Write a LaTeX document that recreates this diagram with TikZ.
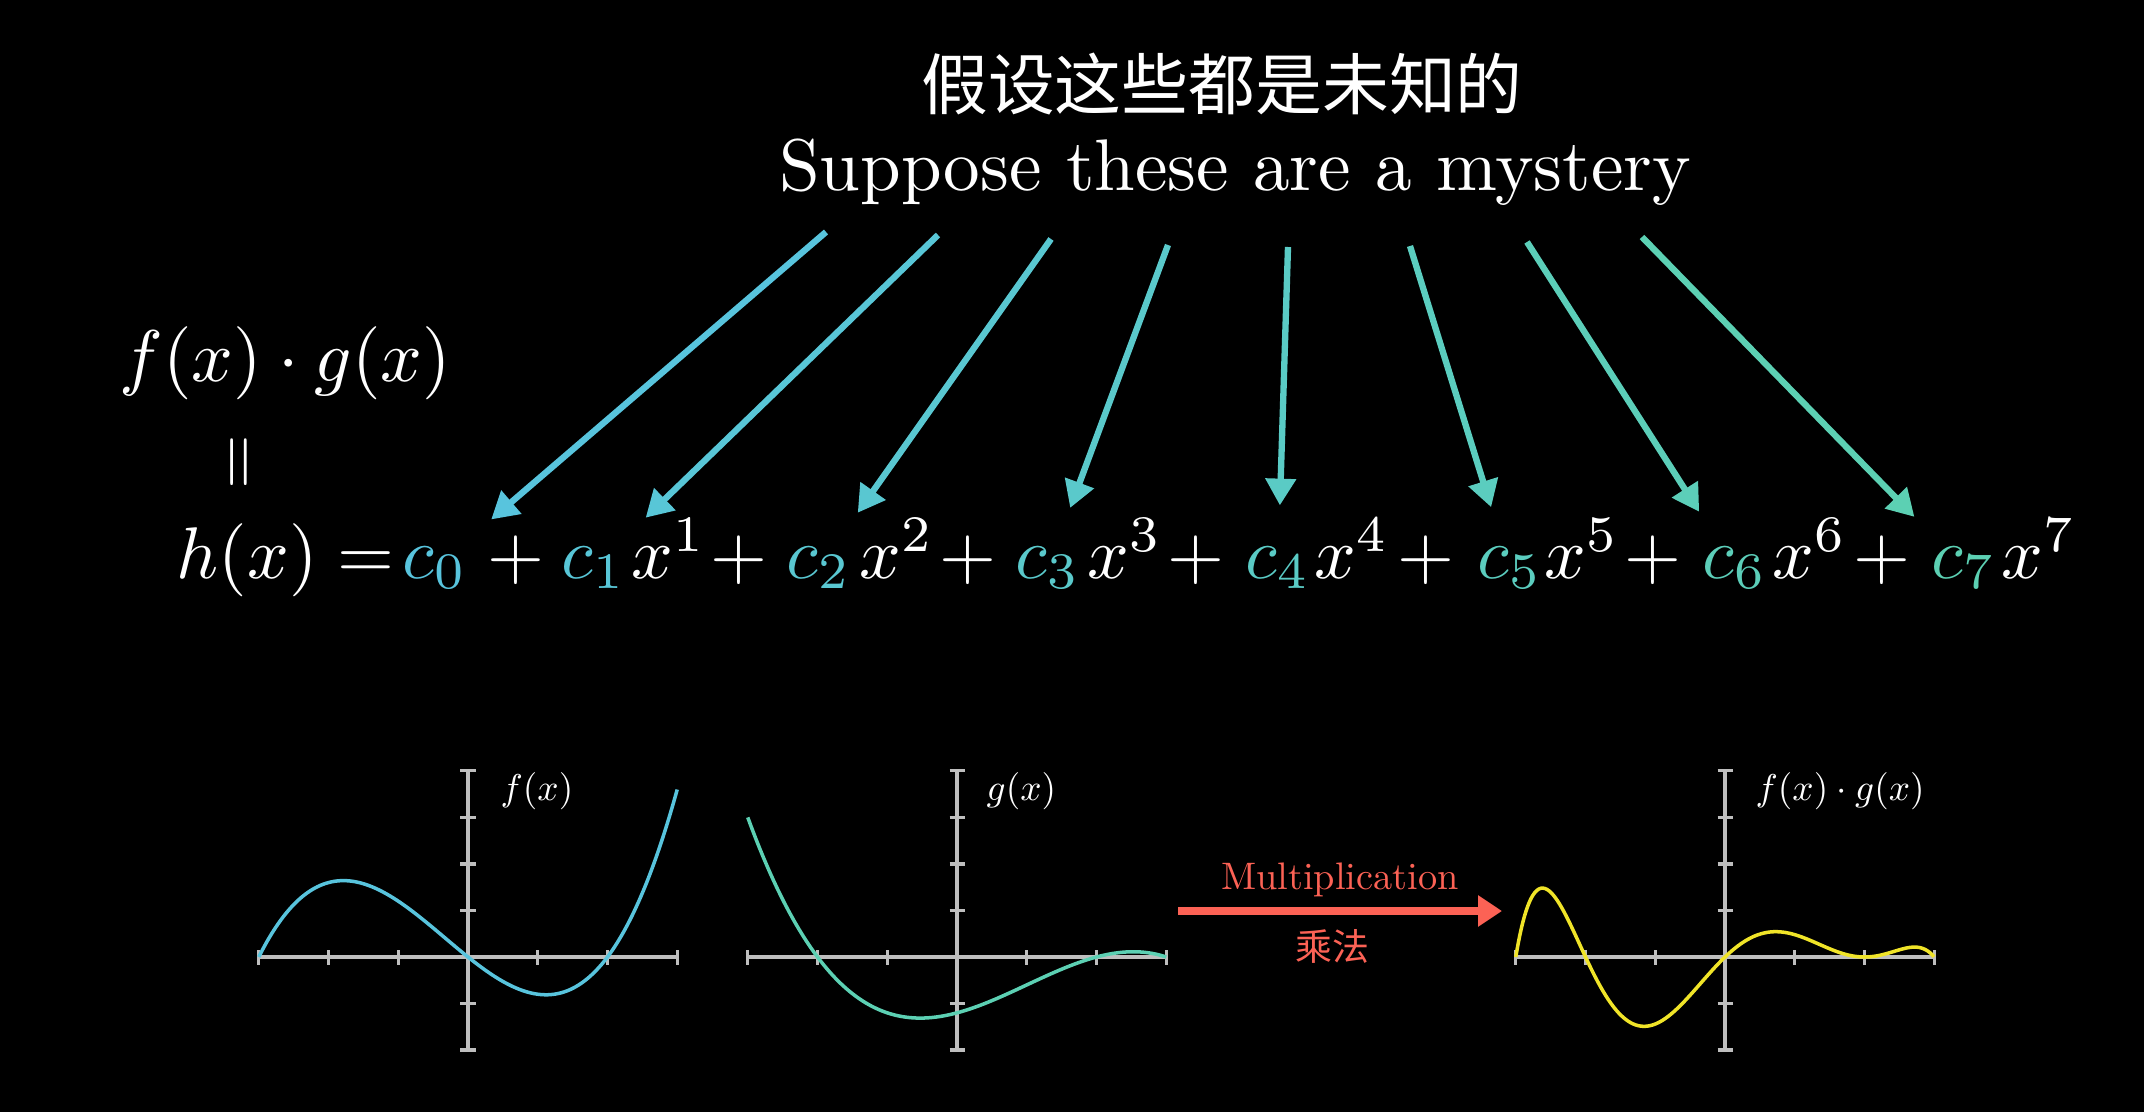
\documentclass[tikz,border=0pt]{standalone}
\usepackage{graphicx}
\usepackage{fontspec}
\newfontfamily\cjk{Noto Sans CJK SC}
\usetikzlibrary{arrows.meta}
\definecolor{cblue}{RGB}{88,196,221}
\definecolor{cteal}{RGB}{92,208,179}
\definecolor{cred}{RGB}{252,98,85}
\definecolor{cyel}{RGB}{240,228,40}
\definecolor{caxis}{RGB}{190,190,190}
\colorlet{k0}{cblue}
\colorlet{k1}{cteal!14.3!cblue}
\colorlet{k2}{cteal!28.6!cblue}
\colorlet{k3}{cteal!42.9!cblue}
\colorlet{k4}{cteal!57.1!cblue}
\colorlet{k5}{cteal!71.4!cblue}
\colorlet{k6}{cteal!85.7!cblue}
\colorlet{k7}{cteal}
\newcommand{\bigtxt}[1]{\scalebox{2.08}{#1}}
\newcommand{\smalltxt}[1]{\scalebox{1.06}{#1}}
\begin{document}
\begin{tikzpicture}[x=0.01cm,y=-0.01cm,
  big/.style={text=white, inner sep=0pt, anchor=base west},
  coefarrow/.style={line width=1.8pt, shorten >=11.5pt, -{Triangle[length=7.6pt,width=8.4pt]}},
  axisline/.style={draw=caxis, line width=0.9pt},
  curve/.style={line width=1pt},
  plotlabel/.style={text=white, inner sep=0pt, anchor=base west},
  mularrow/.style={draw=cred, line width=2.1pt, -{Triangle[length=6.8pt,width=8.5pt]}}]
\fill[black] (0,0) rectangle (2144,1112);
\useasboundingbox (0,0) rectangle (2144,1112);

% title
\node[font=\cjk\fontsize{19}{23}\selectfont, text=white, inner sep=0pt] (zh) at (1222,84) {假设这些都是未知的};
\node[big, anchor=base] (en) at (1235,190) {\bigtxt{Suppose these are a mystery}};

% left expression
\node[big] (fg) at (119,381) {\bigtxt{$f(x)\cdot g(x)$}};
\node[text=white, inner sep=0pt] (veq) at (244,462) {\scalebox{2.0}{\rotatebox{90}{$=$}}};

% equation
\node[big] (hx) at (176,578) {\bigtxt{$h(x)$}};
\node[big] (eq) at (337,578) {\bigtxt{$=$}};
\node[big, text=k0] (c0) at (402,578) {\bigtxt{$c_0$}};
\foreach \i/\cx/\xx/\px in {1/561/631/487, 2/786/859/710, 3/1015/1087/939, 4/1245/1314/1167, 5/1477/1544/1397, 6/1702/1772/1624, 7/1931/2001/1853}{
  \node[big] (p\i) at (\px,578) {\bigtxt{$+$}};
  \node[big, text=k\i] (c\i) at (\cx,578) {\bigtxt{$c_{\i}$}};
  \node[big] (x\i) at (\xx,578) {\bigtxt{$x^{\i}$}};
}

% arrows
\foreach \i/\sx/\sy in {0/826/232, 1/938/235, 2/1051/239, 3/1168/245, 4/1288/247, 5/1410/246, 6/1527/242, 7/1642/237}{
  \coordinate (s\i) at (\sx,\sy);
  \draw[coefarrow, k\i] (s\i) -- (c\i);
}

% plot f
\begin{scope}[shift={(468,957)}]
 \begin{scope}[x=0.697cm,y=0.465cm]
  \draw[axisline] (-3,0) -- (3,0);
  \draw[axisline] (0,-2) -- (0,4);
  \foreach \t in {-3,-2,-1,1,2,3} \draw[axisline] (\t,0) ++(0,-0.075cm) -- ++(0,0.15cm);
  \foreach \t in {-2,-1,1,2,3,4} \draw[axisline] (0,\t) ++(-0.075cm,0) -- ++(0.15cm,0);
  \draw[curve, cblue] plot[domain=-3:3, samples=150, smooth] (\x,{0.2*\x*(\x+3)*(\x-2)});
 \end{scope}
\end{scope}
\node[plotlabel] (flab) at (500,800) {\smalltxt{$f(x)$}};

% plot g
\begin{scope}[shift={(957,957)}]
 \begin{scope}[x=0.697cm,y=0.465cm]
  \draw[axisline] (-3,0) -- (3,0);
  \draw[axisline] (0,-2) -- (0,4);
  \foreach \t in {-3,-2,-1,1,2,3} \draw[axisline] (\t,0) ++(0,-0.075cm) -- ++(0,0.15cm);
  \foreach \t in {-2,-1,1,2,3,4} \draw[axisline] (0,\t) ++(-0.075cm,0) -- ++(0.15cm,0);
  \draw[curve, cteal] plot[domain=-3:3, samples=150, smooth] (\x,{-0.1*(\x+2)*(\x-2)*(\x-3)});
 \end{scope}
\end{scope}
\node[plotlabel] (glab) at (986,800) {\smalltxt{$g(x)$}};

% plot product
\begin{scope}[shift={(1725,957)}]
 \begin{scope}[x=0.697cm,y=0.465cm]
  \draw[axisline] (-3,0) -- (3,0);
  \draw[axisline] (0,-2) -- (0,4);
  \foreach \t in {-3,-2,-1,1,2,3} \draw[axisline] (\t,0) ++(0,-0.075cm) -- ++(0,0.15cm);
  \foreach \t in {-2,-1,1,2,3,4} \draw[axisline] (0,\t) ++(-0.075cm,0) -- ++(0.15cm,0);
  \draw[curve, cyel] plot[domain=-3:3, samples=200, smooth] (\x,{-0.02*\x*(\x+3)*(\x-2)*(\x-2)*(\x+2)*(\x-3)});
 \end{scope}
\end{scope}
\node[plotlabel] (pglab) at (1755,800) {\smalltxt{$f(x)\cdot g(x)$}};

% multiplication arrow
\coordinate (ma) at (1178,911);
\coordinate (mb) at (1502,911);
\draw[mularrow] (ma) -- (mb);
\node[text=cred, inner sep=0pt, anchor=base] (mt) at (1340,889) {\scalebox{1.09}{Multiplication}};
\node[font=\cjk\fontsize{10.5}{13}\selectfont, text=cred, inner sep=0pt] (mz) at (1332,946) {乘法};
\end{tikzpicture}
\end{document}
